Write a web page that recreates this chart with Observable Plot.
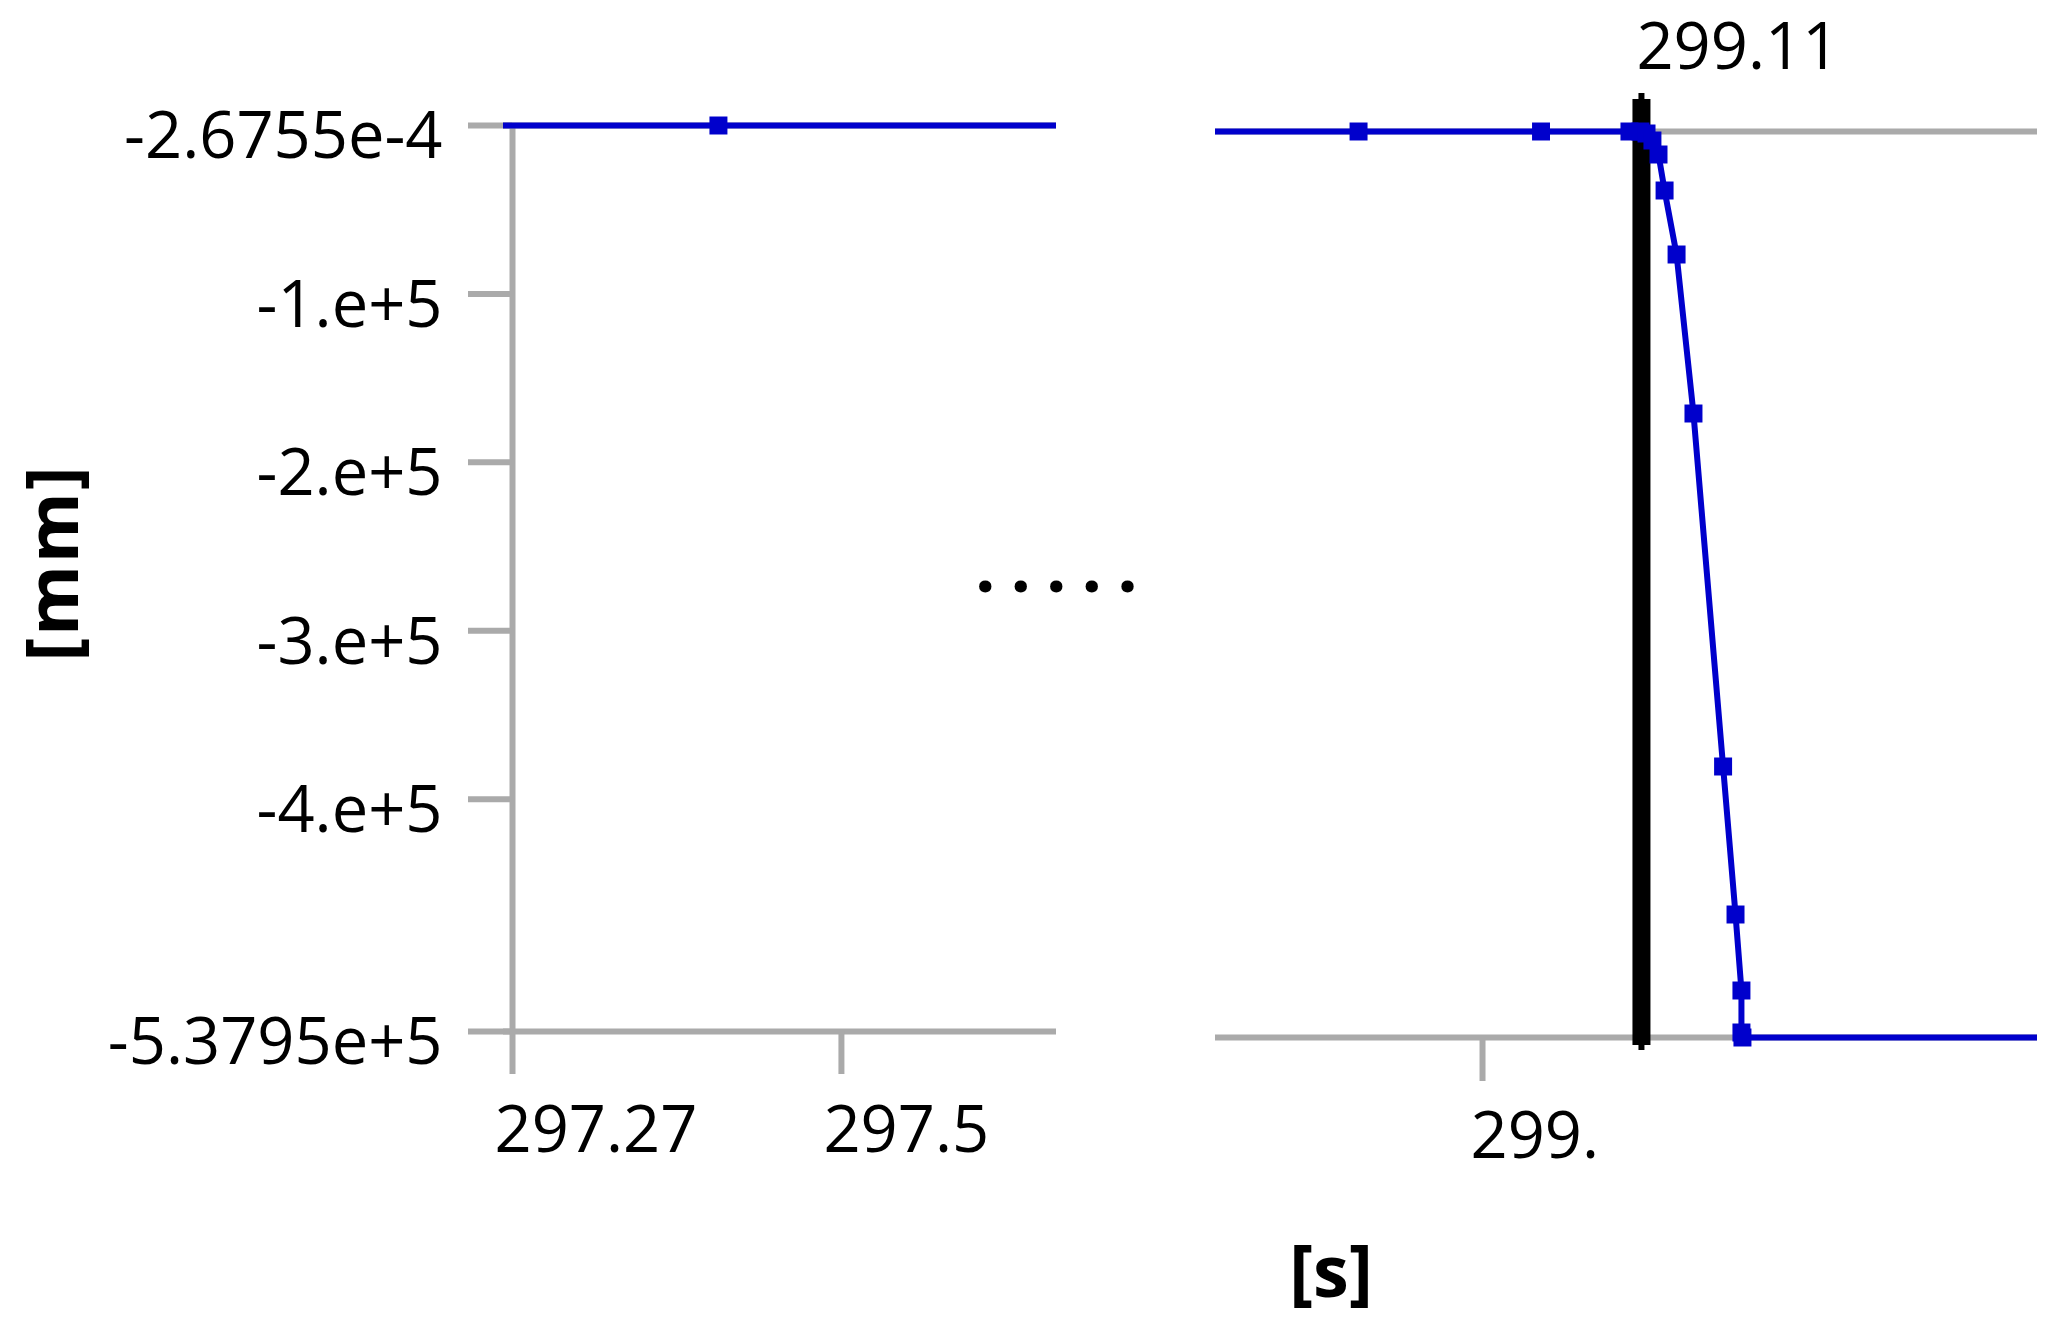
<!DOCTYPE html>
<html>
<head>
<meta charset="utf-8">
<script src="https://cdn.jsdelivr.net/npm/d3@7"></script>
<script src="https://cdn.jsdelivr.net/npm/@observablehq/plot@0.6"></script>
<style>
  html, body { margin: 0; padding: 0; background: #fff; }
  #wrap { position: relative; width: 2068px; height: 1332px; overflow: hidden; background: #fff; font-family: 'Open Sans', sans-serif; }
  #left, #right { position: absolute; top: 0; }
  #left { left: 0; }
  #right { left: 1150px; }
  .lbl { position: absolute; font-family: 'Open Sans', sans-serif; font-weight: 700; font-size: 72px; line-height: 1; color: #000; white-space: nowrap; }
</style>
</head>
<body>
<div id="wrap">
  <div id="left"></div>
  <div id="right"></div>
  <div class="lbl" id="ylab" style="left:50px; top:563px; transform: translate(-50%,-50%) rotate(-90deg); letter-spacing:2px;">[mm]</div>
  <div class="lbl" id="xlab" style="left:1331px; top:1269px; transform: translate(-50%,-50%);">[s]</div>
  <div class="lbl" id="brk" style="left:975px; top:528px; letter-spacing:15px;">.....</div>
</div>
<script>
// ---- data ----
const timeS = [297.05, 297.414, 298.9142, 299.0405, 299.1017, 299.1093, 299.1135, 299.1176, 299.1218, 299.1260, 299.1343, 299.1460, 299.1665, 299.1751, 299.1792, 299.1792, 299.1799, 299.55];
const deformMM = [-2.6755e-4, -2.6755e-4, -2.6755e-4, -2.6755e-4, -2.6755e-4, -2.6755e-4, -1188, -5344, -13657, -35032, -73033, -167442, -377040, -464918, -510043, -534981, -537950, -537950];

const yTicks = [-2.6755e-4, -1e5, -2e5, -3e5, -4e5, -5.3795e5];
const yTickLabels = ["-2.6755e-4", "-1.e+5", "-2.e+5", "-3.e+5", "-4.e+5", "-5.3795e+5"];
const yDomain = [-5.3795e5, -2.6755e-4];

const leftDomain = [297.2637, 297.6504];
const leftTicks = [297.27, 297.5];
const leftTickLabels = ["297.27", "297.5"];

const rightDomain = [298.8152, 299.3841];
const rightTicks = [299];
const rightTickLabels = ["299."];

const cursorTime = [299.11];
const cursorLabel = ["299.11"];

// ---- styles ----
const BLUE = "#0000cc";
const GRAY = "#aaaaaa";
const series = timeS.map((t, i) => ({t, v: deformMM[i]}));
const yLabelMap = new Map(yTicks.map((d, i) => [d, yTickLabels[i]]));
const lxMap = new Map(leftTicks.map((d, i) => [d, leftTickLabels[i]]));
const rxMap = new Map(rightTicks.map((d, i) => [d, rightTickLabels[i]]));
const baseStyle = {fontFamily: "'Open Sans', sans-serif", fontSize: "65px", color: "#000", background: "transparent", overflow: "visible"};

// ---- left panel ----
const left = Plot.plot({
  width: 1070, height: 1200,
  marginLeft: 503, marginRight: 14, marginTop: 100, marginBottom: 169,
  style: baseStyle,
  x: {domain: leftDomain, axis: null},
  y: {domain: yDomain, range: [1031, 125], axis: null},
  marks: [
    Plot.ruleY([yDomain[1], yDomain[0]], {stroke: GRAY, strokeWidth: 6}),
    Plot.ruleX([leftTicks[0]], {stroke: GRAY, strokeWidth: 6, insetTop: 28}),
    Plot.axisY(yTicks, {anchor: "left", tickSize: 44, dx: 9, stroke: GRAY, strokeWidth: 6, fill: "none", label: null}),
    Plot.axisY(yTicks, {anchor: "left", tickSize: 44, tickPadding: 26, dx: 9, dy: 12, stroke: "none", fill: "#000", tickFormat: d => yLabelMap.get(d), label: null}),
    Plot.axisX(leftTicks, {anchor: "bottom", tickSize: 43, stroke: GRAY, strokeWidth: 6, fill: "none", label: null}),
    Plot.axisX(leftTicks, {anchor: "bottom", tickSize: 43, tickPadding: 31, textAnchor: "start", dx: -18, stroke: "none", fill: "#000", tickFormat: d => lxMap.get(d), label: null}),
    Plot.line(series, {x: "t", y: "v", stroke: BLUE, strokeWidth: 6, clip: true}),
    Plot.dot(series, {x: "t", y: "v", symbol: "square", r: 10.15, fill: BLUE, clip: true})
  ]
});
document.getElementById("left").appendChild(left);

// ---- right panel ----
const right = Plot.plot({
  width: 918, height: 1200,
  marginLeft: 65, marginRight: 31, marginTop: 93, marginBottom: 150,
  style: baseStyle,
  x: {domain: rightDomain, axis: null},
  y: {domain: yDomain, range: [1037, 131], axis: null},
  marks: [
    Plot.ruleY([yDomain[1], yDomain[0]], {stroke: GRAY, strokeWidth: 6}),
    Plot.axisX(rightTicks, {anchor: "bottom", tickSize: 44, dy: -13, stroke: GRAY, strokeWidth: 6, fill: "none", label: null}),
    Plot.axisX(rightTicks, {anchor: "bottom", tickSize: 44, tickPadding: 30, dy: -13, textAnchor: "start", dx: -12, stroke: "none", fill: "#000", tickFormat: d => rxMap.get(d), label: null}),
    Plot.ruleX(cursorTime, {stroke: "#000", strokeWidth: 6}),
    Plot.ruleX(cursorTime, {stroke: "#000", strokeWidth: 18, insetTop: 6, insetBottom: 5}),
    Plot.text(cursorTime, {x: d => d, frameAnchor: "top", lineAnchor: "middle", text: (d, i) => cursorLabel[i], textAnchor: "start", dx: -5, dy: -45, fill: "#000"}),
    Plot.line(series, {x: "t", y: "v", stroke: BLUE, strokeWidth: 6, clip: true}),
    Plot.dot(series, {x: "t", y: "v", symbol: "square", r: 10.15, fill: BLUE, clip: true})
  ]
});
document.getElementById("right").appendChild(right);
</script>
</body>
</html>
